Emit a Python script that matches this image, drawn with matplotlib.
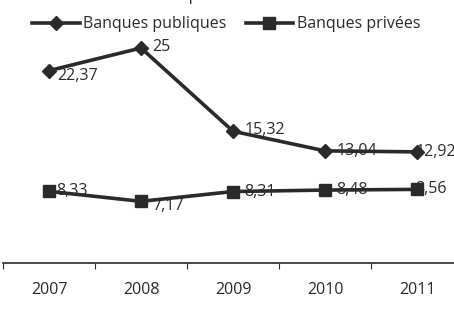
import matplotlib.pyplot as plt

years = ['2007', '2008', '2009', '2010', '2011']
publiques = [22.37, 25, 15.32, 13.04, 12.92]
privees = [8.33, 7.17, 8.31, 8.48, 8.56]
lab_pub = ['22,37', '25', '15,32', '13,04', '12,92']
lab_priv = ['8,33', '7,17', '8,31', '8,48', '8,56']
# label offsets (points)
off_pub = [(6, -4), (8, 1), (8, 1), (8, 0), (-1, 0)]
off_priv = [(5, 0), (8, -3), (8, 0), (8, 0), (-1, 0)]

plt.rcParams['font.family'] = ['Open Sans', 'DejaVu Sans']
col = '#2a2a2a'
fs = 11.5

fig = plt.figure(figsize=(4.54, 3.2), dpi=100)
W, H = 454, 320
# axes runs past the right edge, like the cropped original
ax = fig.add_axes([3 / W, (H - 263) / H, 460 / W, 258 / H])
x = list(range(len(years)))

ax.plot(x, publiques, color=col, lw=2.6, marker='D', ms=7, label='Banques publiques')
ax.plot(x, privees, color=col, lw=2.6, marker='s', ms=9, label='Banques privées')

for i in x:
    ax.annotate(lab_pub[i], (i, publiques[i]), xytext=off_pub[i], textcoords='offset points',
                va='center', ha='left', fontsize=fs, color=col)
    ax.annotate(lab_priv[i], (i, privees[i]), xytext=off_priv[i], textcoords='offset points',
                va='center', ha='left', fontsize=fs, color=col)

ax.set_xlim(-0.5, 4.5)
ax.set_ylim(0, 30)
ax.set_xticks([i - 0.5 for i in range(6)])
ax.set_xticklabels([])
ax.set_xticks(x, minor=True)
ax.set_xticklabels(years, minor=True, fontsize=fs, color=col)
ax.tick_params(axis='x', which='major', length=4, color=col, direction='out')
ax.tick_params(axis='x', which='minor', length=0, pad=14)
ax.set_yticks([])
for s in ['top', 'right', 'left']:
    ax.spines[s].set_visible(False)
ax.spines['bottom'].set_color(col)
ax.spines['bottom'].set_linewidth(1.2)

fig.legend(loc='upper center', bbox_to_anchor=(226 / W, 1 - 2 / H), ncol=2, frameon=False,
           fontsize=fs, handlelength=3, columnspacing=1.2, handletextpad=0.2,
           labelcolor=col)

# title of the original, mostly cut off at the top of the crop
fig.text(240 / W, 1 + 4 / H, "du taux d'opérations avec les clients", ha='center', va='center',
         fontsize=fs, color=col)

fig.savefig('out.png', dpi=100)
